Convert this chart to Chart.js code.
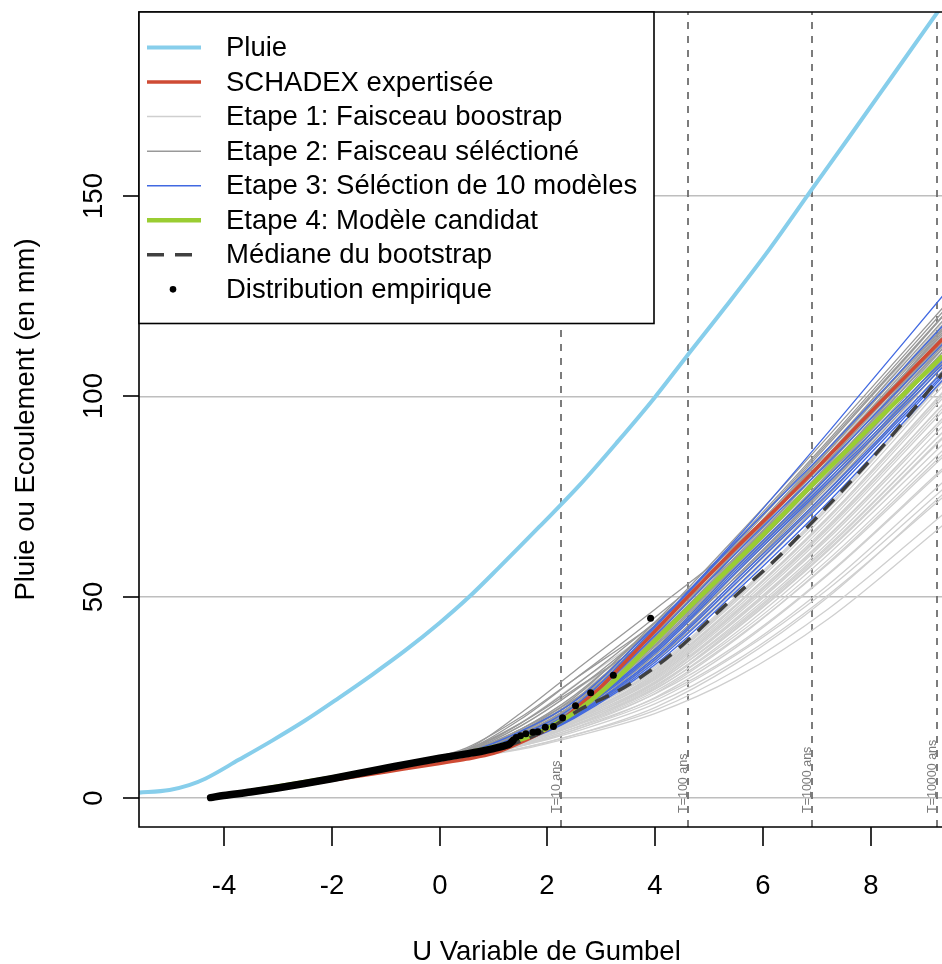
<!DOCTYPE html>
<html>
<head>
<meta charset="utf-8">
<script src="https://cdn.jsdelivr.net/npm/chart.js@4.4.0/dist/chart.umd.min.js"></script>
<style>
  html, body { margin: 0; padding: 0; background: #fff; overflow: hidden; }
  #wrap { width: 960px; height: 964px; }
</style>
</head>
<body>
<div id="wrap"><canvas id="gumbel" width="960" height="964"></canvas></div>
<script>
// ---- données (U = variable de Gumbel, valeurs en mm) ----

// Pluie
const pluieU = [-5.6, -5.0, -4.64, -4.34, -3.72, -3.1, -2.49, -1.87, -1.25, -0.64, 0.0, 0.54, 1.1, 1.85, 2.59, 3.3, 3.98, 4.57, 5.3, 6.11, 6.9, 7.6, 8.4, 9.32];
const pluieV = [1.2, 1.9, 3.1, 4.7, 9.4, 14.2, 19.2, 24.8, 30.6, 36.6, 43.5, 49.9, 57.3, 67.5, 77.8, 88.7, 99.6, 109.8, 122.3, 136.6, 151.6, 164.8, 180.0, 197.5];

// SCHADEX expertisée
const redU = [-4.24, -3, -2, -1, 0, 0.5, 1.0, 1.36, 1.8, 2.1, 2.35, 2.59, 2.96, 3.21, 3.8, 4.44, 5.5, 6.3, 6.88, 8.0, 9.32];
const redV = [0, 2.2, 4.3, 6.4, 8.5, 9.6, 11.0, 12.9, 15.6, 17.9, 20.2, 23.0, 27.2, 30.6, 38.8, 47.8, 62.3, 72.8, 80.6, 96.2, 114.3];

// Etape 4: modèle candidat
const greenU = [-4.24, -1, 0, 0.6, 1.0, 1.36, 1.8, 2.1, 2.59, 3.21, 3.8, 4.44, 5.93, 6.88, 8.0, 9.32];
const greenV = [0, 7.3, 9.9, 11.4, 12.6, 13.8, 16.0, 18.0, 22.0, 28.8, 36.5, 45.0, 64.6, 77.6, 92.6, 110.0];

// Médiane du bootstrap
const medU = [-4.24, -1, 0, 1.0, 1.5, 2.0, 2.65, 3.3, 3.89, 4.5, 5.06, 5.5, 6.24, 6.88, 7.6, 8.4, 9.32];
const medV = [0, 7.2, 9.5, 12.0, 14.0, 17.0, 22.3, 26.5, 31.5, 38.0, 45.0, 50.5, 59.5, 68.3, 78.5, 90.5, 105.7];

// Distribution empirique (partie dense + points isolés)
const empDenseU = [-4.24, -4.0, -3.5, -3.0, -2.5, -2.0, -1.5, -1.0, -0.5, 0.0, 0.5, 0.8, 1.0, 1.2, 1.3, 1.36];
const empDenseV = [0.0, 0.5, 1.4, 2.4, 3.5, 4.7, 6.0, 7.3, 8.6, 9.8, 10.9, 11.6, 12.2, 12.9, 13.4, 14.2];
const empU = [1.42, 1.50, 1.60, 1.73, 1.82, 1.96, 2.11, 2.28, 2.52, 2.80, 3.22, 3.91];
const empV = [15.0, 15.4, 15.9, 16.3, 16.4, 17.5, 17.7, 19.9, 22.9, 26.1, 30.5, 44.7];

// abscisses communes des faisceaux
const faisceauU = [-0.5, 0.5, 1.5, 2.5, 4.0, 5.5, 7.2, 9.32];

// Etape 1: faisceau bootstrap
const etape1 = [
  [8.4, 10.0, 12.0, 15.2, 21.0, 30.0, 44.5, 67.8],
  [8.4, 10.1, 12.3, 15.6, 21.8, 31.8, 47.0, 70.5],
  [8.4, 10.0, 12.2, 15.6, 22.5, 33.5, 50.0, 75.5],
  [8.4, 10.2, 12.8, 16.4, 23.4, 34.2, 50.5, 74.8],
  [8.4, 10.3, 13.0, 16.9, 24.2, 35.6, 52.0, 76.8],
  [8.4, 10.4, 13.2, 17.3, 24.8, 36.0, 53.0, 78.5],
  [8.4, 10.3, 12.8, 16.8, 25.0, 37.5, 55.5, 81.5],
  [8.5, 10.5, 13.4, 17.8, 25.9, 38.0, 55.8, 82.0],
  [8.5, 10.4, 13.1, 17.4, 26.0, 39.5, 58.5, 85.5],
  [8.5, 10.5, 13.5, 18.0, 26.5, 39.8, 58.2, 84.8],
  [8.5, 10.6, 13.8, 18.6, 27.2, 40.5, 59.3, 86.5],
  [8.5, 10.5, 13.4, 18.0, 27.5, 42.0, 61.5, 89.5],
  [8.5, 10.6, 13.9, 18.9, 28.0, 42.2, 61.8, 89.8],
  [8.5, 10.7, 14.1, 19.3, 28.6, 43.0, 62.8, 91.0],
  [8.5, 10.6, 13.7, 18.7, 28.8, 44.2, 64.5, 93.8],
  [8.5, 10.7, 14.2, 19.6, 29.4, 44.8, 65.3, 94.5],
  [8.5, 10.7, 14.0, 19.4, 30.0, 46.0, 67.0, 97.0],
  [8.5, 10.8, 14.4, 20.0, 30.5, 46.6, 67.8, 97.8],
  [8.5, 10.7, 14.2, 19.8, 31.0, 47.8, 69.5, 100.2],
  [8.5, 10.8, 14.5, 20.6, 31.6, 48.2, 70.0, 100.8],
  [8.5, 10.8, 14.3, 20.3, 32.0, 49.5, 72.0, 103.5],
  [8.5, 10.9, 14.7, 21.2, 32.8, 50.2, 72.8, 104.2],
  [8.5, 10.8, 14.6, 20.9, 32.4, 49.8, 72.3, 103.8],
  [8.5, 10.8, 14.5, 20.7, 31.9, 49.0, 71.2, 102.5],
  [8.5, 10.7, 14.4, 20.4, 31.3, 48.0, 69.9, 101.0],
  [8.5, 10.7, 14.3, 20.1, 30.8, 47.2, 68.7, 99.5],
  [8.5, 10.7, 14.1, 19.8, 30.2, 46.3, 67.4, 98.0],
  [8.5, 10.6, 14.0, 19.5, 29.7, 45.5, 66.3, 96.2],
  [8.5, 10.6, 13.9, 19.2, 29.0, 44.5, 65.0, 94.5],
  [8.5, 10.6, 13.8, 18.9, 28.4, 43.5, 63.5, 92.5],
  [8.5, 10.5, 13.6, 18.5, 27.8, 42.6, 62.4, 91.0],
  [8.5, 10.5, 13.5, 18.2, 27.0, 41.2, 60.6, 88.0],
  [8.5, 11.0, 15.0, 22.0, 34.2, 52.0, 75.2, 107.5],
  [8.6, 11.2, 15.6, 23.0, 35.6, 53.5, 77.0, 109.5],
  [8.6, 11.4, 16.2, 24.0, 37.0, 55.2, 79.0, 111.8],
  [8.6, 11.1, 15.4, 22.8, 36.5, 56.0, 80.5, 113.5],
  [8.6, 11.7, 17.0, 25.3, 38.8, 57.0, 80.8, 113.0],
  [8.6, 11.5, 16.5, 24.6, 39.0, 58.5, 83.0, 116.0],
  [8.7, 12.0, 17.8, 26.6, 40.5, 59.0, 83.0, 115.5],
  [8.7, 12.2, 18.6, 28.0, 42.5, 61.0, 85.5, 118.5],
  [8.7, 11.6, 16.8, 25.2, 40.8, 61.5, 86.5, 120.0],
  [8.6, 11.0, 15.2, 22.4, 35.0, 53.2, 76.5, 108.6]
];

// Etape 2: faisceau sélectionné
const etape2 = [
  [8.6, 12.0, 21.0, 31.5, 47.0, 63.0, 85.0, 113.5],
  [8.6, 11.8, 19.5, 29.5, 45.0, 62.0, 85.0, 114.5],
  [8.6, 11.6, 18.5, 27.8, 43.8, 61.8, 85.5, 115.5],
  [8.6, 11.5, 17.8, 26.6, 43.0, 62.0, 86.5, 117.0],
  [8.6, 11.3, 17.0, 25.5, 43.0, 63.5, 88.5, 120.0],
  [8.6, 11.1, 16.5, 25.0, 43.8, 65.0, 90.0, 122.0],
  [8.6, 11.0, 16.2, 24.3, 42.8, 64.0, 89.0, 121.0],
  [8.6, 11.0, 16.0, 24.0, 42.0, 63.0, 88.0, 119.8],
  [8.5, 10.9, 15.7, 23.5, 41.5, 62.3, 87.0, 118.8],
  [8.5, 10.9, 15.5, 23.2, 41.0, 61.6, 86.2, 117.8],
  [8.5, 10.8, 15.3, 22.8, 40.5, 61.0, 85.3, 116.8],
  [8.5, 10.8, 15.1, 22.5, 40.0, 60.3, 84.6, 116.0],
  [8.5, 10.7, 15.0, 22.2, 39.6, 59.8, 83.8, 115.0],
  [8.5, 10.7, 14.8, 21.9, 39.2, 59.2, 83.0, 114.2],
  [8.5, 10.7, 14.7, 21.6, 38.7, 58.6, 82.2, 113.4],
  [8.5, 10.6, 14.6, 21.4, 38.2, 58.0, 81.5, 112.6],
  [8.5, 10.6, 14.5, 21.2, 37.8, 57.4, 80.8, 111.8],
  [8.5, 10.6, 14.4, 21.0, 37.3, 56.8, 80.0, 111.0],
  [8.5, 10.5, 14.3, 20.8, 36.8, 56.0, 79.2, 110.2],
  [8.5, 10.5, 14.2, 20.6, 36.2, 55.2, 78.4, 109.3],
  [8.5, 10.5, 14.1, 20.4, 35.6, 54.4, 77.5, 108.4],
  [8.5, 10.4, 14.0, 20.2, 35.0, 53.5, 76.6, 107.5],
  [8.5, 10.4, 13.9, 20.0, 34.3, 52.5, 75.5, 106.4],
  [8.6, 11.4, 17.0, 24.5, 38.0, 55.0, 78.0, 108.5],
  [8.6, 11.9, 18.5, 27.0, 40.5, 57.5, 80.5, 111.0],
  [8.6, 12.4, 20.0, 29.5, 43.5, 60.0, 82.5, 112.0],
  [8.5, 11.0, 15.8, 23.0, 39.0, 58.0, 82.0, 114.0],
  [8.5, 11.2, 16.5, 24.0, 40.0, 59.5, 84.0, 116.5]
];

// Etape 3: sélection de 10 modèles
const etape3 = [
  [8.6, 11.2, 16.5, 24.0, 43.0, 64.5, 91.0, 125.0],
  [8.5, 10.9, 15.6, 22.8, 42.5, 63.8, 87.0, 117.5],
  [8.5, 10.8, 15.0, 22.0, 40.5, 61.0, 83.5, 113.0],
  [8.5, 10.7, 14.7, 21.4, 37.0, 57.5, 80.0, 108.8],
  [8.5, 10.6, 14.6, 21.2, 36.5, 56.8, 79.2, 108.0],
  [8.5, 10.6, 14.5, 21.0, 36.0, 56.2, 78.5, 107.2],
  [8.5, 10.5, 14.3, 20.6, 35.0, 54.3, 76.5, 106.0],
  [8.5, 10.5, 14.2, 20.4, 34.5, 53.6, 75.8, 105.3],
  [8.5, 10.4, 14.0, 20.1, 33.8, 52.4, 74.8, 104.8],
  [8.5, 10.4, 13.8, 19.8, 33.2, 51.4, 73.6, 104.0]
];

// périodes de retour et graduations
const periodes = [10, 100, 1000, 10000];
const periodesU = [2.2504, 4.6001, 6.9073, 9.2103];
const xTicks = [-4, -2, 0, 2, 4, 6, 8];
const yTicks = [0, 50, 100, 150];

// ---- couleurs ----
const cPluie = '#87CEEB';
const cRouge = '#CF4B34';
const cGris1 = '#CFCFCF';
const cGris2 = '#999999';
const cBleu = '#4169E1';
const cVert = '#9ACD32';
const cMed = '#404040';
const FONT = '"Liberation Sans", Arial, sans-serif';

function pts(us, vs) {
  return us.map((u, i) => ({ x: u, y: vs[i] }));
}

function courbe(us, vs, color, width, order, extra) {
  return Object.assign({
    data: pts(us, vs),
    showLine: true,
    borderColor: color,
    backgroundColor: color,
    borderWidth: width,
    pointRadius: 0,
    cubicInterpolationMode: 'monotone',
    order: order
  }, extra || {});
}

const datasets = [];
etape1.forEach(c => datasets.push(courbe(faisceauU, c, cGris1, 1.3, 8)));
etape2.forEach(c => datasets.push(courbe(faisceauU, c, cGris2, 1.3, 7)));
etape3.forEach(c => datasets.push(courbe(faisceauU, c, cBleu, 1.3, 6)));
datasets.push(courbe(redU, redV, cRouge, 3.5, 5));
datasets.push(courbe(greenU, greenV, cVert, 4.5, 4));
datasets.push(courbe(medU, medV, cMed, 3.5, 3, { borderDash: [15, 10] }));
datasets.push(courbe(empDenseU, empDenseV, '#000', 7.5, 2, { borderCapStyle: 'round' }));
datasets.push({
  data: pts(empU, empV),
  showLine: false,
  pointRadius: 3.5,
  pointBackgroundColor: '#000',
  pointBorderWidth: 0,
  order: 1
});
datasets.push(courbe(pluieU, pluieV, cPluie, 4, 0));

// ---- décor façon R: cadre, axes, lignes de période de retour, légende ----
const legendeItems = [
  { text: 'Pluie', color: cPluie, width: 4 },
  { text: 'SCHADEX expertisée', color: cRouge, width: 3.5 },
  { text: 'Etape 1: Faisceau boostrap', color: cGris1, width: 1.5 },
  { text: 'Etape 2: Faisceau séléctioné', color: cGris2, width: 1.5 },
  { text: 'Etape 3: Séléction de 10 modèles', color: cBleu, width: 1.6 },
  { text: 'Etape 4: Modèle candidat', color: cVert, width: 4.5 },
  { text: 'Médiane du bootstrap', color: cMed, width: 3.5, dash: [17, 11] },
  { text: 'Distribution empirique', point: true }
];

const decor = {
  id: 'decor',
  beforeDatasetsDraw(chart) {
    const ctx = chart.ctx;
    const a = chart.chartArea;
    const sx = chart.scales.x;
    ctx.save();
    periodesU.forEach((u, i) => {
      const px = Math.round(sx.getPixelForValue(u));
      ctx.strokeStyle = '#6E6E6E';
      ctx.lineWidth = 1.8;
      ctx.setLineDash([7, 7]);
      ctx.beginPath();
      ctx.moveTo(px, a.bottom);
      ctx.lineTo(px, a.top);
      ctx.stroke();
      ctx.setLineDash([]);
      ctx.save();
      ctx.translate(px - 1.5, a.bottom - 14);
      ctx.rotate(-Math.PI / 2);
      ctx.fillStyle = '#7A7A7A';
      ctx.font = '12.5px ' + FONT;
      ctx.textAlign = 'left';
      ctx.textBaseline = 'alphabetic';
      ctx.fillText('T=' + periodes[i] + ' ans', 0, 0);
      ctx.restore();
    });
    ctx.restore();
  },
  afterDatasetsDraw(chart) {
    const ctx = chart.ctx;
    const a = chart.chartArea;
    const sx = chart.scales.x;
    const sy = chart.scales.y;
    ctx.save();

    // cadre (le bord droit sort de l'image)
    ctx.strokeStyle = '#000';
    ctx.lineWidth = 1.6;
    ctx.beginPath();
    ctx.moveTo(a.right, a.top);
    ctx.lineTo(a.left, a.top);
    ctx.lineTo(a.left, a.bottom);
    ctx.lineTo(a.right, a.bottom);
    ctx.stroke();

    // graduations X
    ctx.font = '27.5px ' + FONT;
    ctx.fillStyle = '#000';
    ctx.textAlign = 'center';
    ctx.textBaseline = 'alphabetic';
    xTicks.forEach(t => {
      const px = Math.round(sx.getPixelForValue(t));
      ctx.beginPath();
      ctx.moveTo(px, a.bottom);
      ctx.lineTo(px, a.bottom + 19);
      ctx.stroke();
      ctx.fillText(String(t), px, 894);
    });

    // graduations Y (texte vertical)
    yTicks.forEach(t => {
      const py = Math.round(sy.getPixelForValue(t));
      ctx.beginPath();
      ctx.moveTo(a.left, py);
      ctx.lineTo(a.left - 16, py);
      ctx.stroke();
      ctx.save();
      ctx.translate(102, py);
      ctx.rotate(-Math.PI / 2);
      ctx.fillText(String(t), 0, 0);
      ctx.restore();
    });

    // titres des axes
    ctx.fillText('U Variable de Gumbel', (a.left + a.right) / 2, 960);
    ctx.save();
    ctx.translate(34, (a.top + a.bottom) / 2);
    ctx.rotate(-Math.PI / 2);
    ctx.fillText('Pluie ou Ecoulement (en mm)', 0, 0);
    ctx.restore();

    // légende
    const lx = a.left, ly = a.top, lw = 515, lh = 311.5;
    ctx.fillStyle = '#fff';
    ctx.fillRect(lx, ly, lw, lh);
    ctx.strokeStyle = '#000';
    ctx.lineWidth = 1.6;
    ctx.strokeRect(lx, ly, lw, lh);
    ctx.textAlign = 'left';
    ctx.textBaseline = 'middle';
    legendeItems.forEach((it, i) => {
      const y = 47.5 + i * 34.55;
      if (it.point) {
        ctx.fillStyle = '#000';
        ctx.beginPath();
        ctx.arc(173, y, 3.3, 0, Math.PI * 2);
        ctx.fill();
      } else {
        ctx.strokeStyle = it.color;
        ctx.lineWidth = it.width;
        ctx.setLineDash(it.dash || []);
        ctx.beginPath();
        ctx.moveTo(147, y);
        ctx.lineTo(201, y);
        ctx.stroke();
        ctx.setLineDash([]);
      }
      ctx.fillStyle = '#000';
      ctx.fillText(it.text, 226, y + 1);
    });
    ctx.restore();
  }
};

new Chart(document.getElementById('gumbel'), {
  type: 'scatter',
  data: { datasets: datasets },
  options: {
    responsive: false,
    animation: false,
    devicePixelRatio: 1,
    layout: { padding: { top: 12, right: 6, left: 0, bottom: 0 } },
    plugins: {
      legend: { display: false },
      tooltip: { enabled: false }
    },
    scales: {
      x: {
        type: 'linear',
        min: -5.567,
        max: 9.531,
        grid: { display: false },
        border: { display: false },
        ticks: { display: false },
        afterFit: s => { s.height = 137; }
      },
      y: {
        type: 'linear',
        min: -7.33,
        max: 195.76,
        grid: { color: '#BEBEBE', lineWidth: 1.5, drawTicks: false },
        border: { display: false },
        ticks: { display: false, stepSize: 50, includeBounds: false },
        afterFit: s => { s.width = 139; }
      }
    }
  },
  plugins: [decor]
});
</script>
</body>
</html>
